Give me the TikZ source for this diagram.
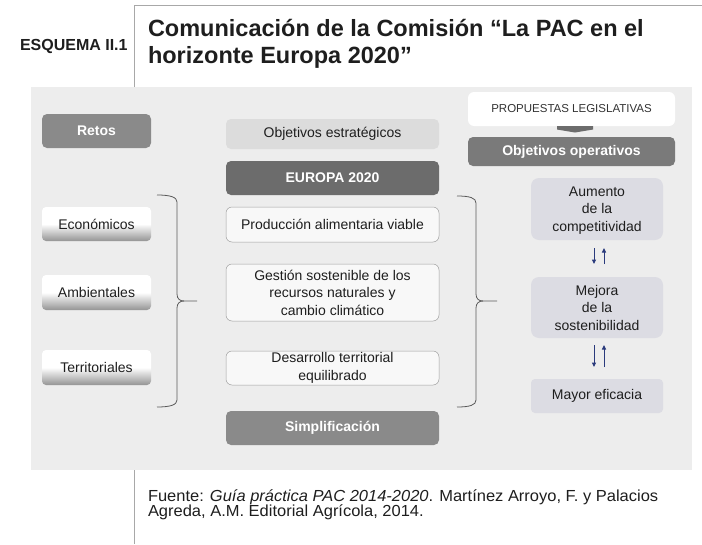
\documentclass[tikz,border=0pt]{standalone}
\usepackage{fontspec}
\setmainfont{Liberation Sans}
\newfontfamily\footfont[FakeStretch=1.03]{Liberation Sans}
\definecolor{panel}{HTML}{EDEDED}
\definecolor{frameline}{HTML}{A8A8A8}
\definecolor{txt}{HTML}{1E1E1E}
\definecolor{darkA}{HTML}{8A8A8A}
\definecolor{darkB}{HTML}{6C6C6C}
\definecolor{darkC}{HTML}{7A7A7A}
\definecolor{lightA}{HTML}{DCDCDC}
\definecolor{opbox}{HTML}{DCDCE3}
\definecolor{whitebox}{HTML}{F8F8F8}
\definecolor{boxline}{HTML}{A0A0A0}
\definecolor{bracec}{HTML}{5A5A5A}
\definecolor{navy}{HTML}{2A3A7C}
\usetikzlibrary{arrows.meta}
\begin{document}
\begin{tikzpicture}[x=1pt,y=-1pt,
  every node/.style={inner sep=0pt, outer sep=0pt, text=txt, font=\fontsize{14}{17.5}\selectfont},
  darkbox/.style={rounded corners=5pt, fill=#1, text=white, font=\fontsize{14}{17}\selectfont\bfseries},
  gradbox/.style={rounded corners=4pt, top color=white, bottom color=black!42, middle color=white},
  midbox/.style={rounded corners=6pt, fill=whitebox, draw=boxline, line width=0.5pt, align=center},
  opstyle/.style={rounded corners=8pt, fill=opbox, align=center},
  framest/.style={draw=frameline, line width=1pt},
  bracest/.style={draw=bracec, line width=0.8pt},
  arr/.style={draw=navy, line width=1pt, -{Triangle[length=4.5pt,width=4pt]}}
]
\useasboundingbox (0,0) rectangle (702,544);
% panel and frame lines
\fill[panel] (31,87) rectangle (692,470);
\draw[framest] (134,87) -- (134,5) -- (702,5);
\draw[framest] (134,470) -- (134,544);

% title
\node[anchor=base west, font=\fontsize{16}{16}\selectfont\bfseries] (esq) at (20,50) {ESQUEMA II.1};
\node[anchor=base west, font=\fontsize{23.5}{27}\selectfont\bfseries] (t1) at (148,36) {Comunicación de la Comisión “La PAC en el};
\node[anchor=base west, font=\fontsize{23.5}{27}\selectfont\bfseries] (t2) at (148,63) {horizonte Europa 2020”};

% left column
\node[darkbox=darkA, minimum width=109pt, minimum height=34pt] (retos) at (96.5,131) {Retos};
\node[gradbox, minimum width=109pt, minimum height=34pt] (eco) at (96.5,224) {Económicos};
\node[gradbox, minimum width=109pt, minimum height=35pt] (amb) at (96.5,292.5) {Ambientales};
\node[gradbox, minimum width=109pt, minimum height=35pt] (ter) at (96.5,367.5) {Territoriales};

% left brace
\draw[bracest] (157,195) .. controls (170,195) and (177,197) .. (177,202) -- (177,294)
  .. controls (177,299) and (180,301) .. (184,301) -- (197,301);
\draw[bracest] (184,301) .. controls (180,301) and (177,303) .. (177,308) -- (177,400)
  .. controls (177,405) and (170,407) .. (157,407);

% middle column
\node[rounded corners=5pt, fill=lightA, minimum width=213pt, minimum height=30pt] (oe) at (332.5,134) {Objetivos estratégicos};
\node[darkbox=darkB, minimum width=213pt, minimum height=34pt] (eu) at (332.5,178) {EUROPA 2020};
\node[midbox, minimum width=213pt, minimum height=35pt] (prod) at (332.5,224.5) {Producción alimentaria viable};
\node[midbox, minimum width=213pt, minimum height=57pt] (gest) at (332.5,292.5) {Gestión sostenible de los\\recursos naturales y\\cambio climático};
\node[midbox, minimum width=213pt, minimum height=34pt] (des) at (332.5,368) {Desarrollo territorial\\equilibrado};
\node[darkbox=darkA, minimum width=213pt, minimum height=34pt] (simp) at (332.5,428) {Simplificación};

% right brace
\draw[bracest] (457,196) .. controls (470,196) and (476,198) .. (476,203) -- (476,294)
  .. controls (476,299) and (479,301) .. (483,301) -- (497,301);
\draw[bracest] (483,301) .. controls (479,301) and (476,303) .. (476,308) -- (476,400)
  .. controls (476,405) and (470,407) .. (457,407);

% right column
\node[rounded corners=6pt, fill=white, minimum width=207pt, minimum height=34pt, font=\fontsize{11.5}{14}\selectfont, text=black!80] (prop) at (571.5,109) {PROPUESTAS LEGISLATIVAS};
\fill[darkB] (557,126) -- (593,126) -- (593,129.5) -- (575,132.5) -- (557,129.5) -- cycle;
\node[darkbox=darkC, minimum width=207pt, minimum height=29pt] (oo) at (571.5,151.5) {Objetivos operativos};
\node[opstyle, minimum width=132pt, minimum height=62pt, text depth=0pt] (aum) at (597,209) {Aumento\\de la\\competitividad};
\node[opstyle, minimum width=132pt, minimum height=61pt, text depth=0pt] (mej) at (597,307.5) {Mejora\\de la\\sostenibilidad};
\node[opstyle, rounded corners=4pt, minimum width=132pt, minimum height=34pt] (may) at (597,396) {Mayor eficacia};

% arrows between operative objectives
\coordinate (a1s) at (594,248); \coordinate (a1e) at (594,264);
\coordinate (a2s) at (604,264); \coordinate (a2e) at (604,248);
\coordinate (b1s) at (594,345); \coordinate (b1e) at (594,367);
\coordinate (b2s) at (604,367); \coordinate (b2e) at (604,345);
\draw[arr] (a1s) -- (a1e);
\draw[arr] (a2s) -- (a2e);
\draw[arr] (b1s) -- (b1e);
\draw[arr] (b2s) -- (b2e);

% footer
\node[anchor=base west, align=left, font=\footfont\fontsize{16}{14}\selectfont] (foot) at (148,516.5) {Fuente: \textit{Guía práctica PAC 2014-2020}. Martínez Arroyo, F. y Palacios\\[-1.5pt]Agreda, A.M. Editorial Agrícola, 2014.};
\end{tikzpicture}
\end{document}
